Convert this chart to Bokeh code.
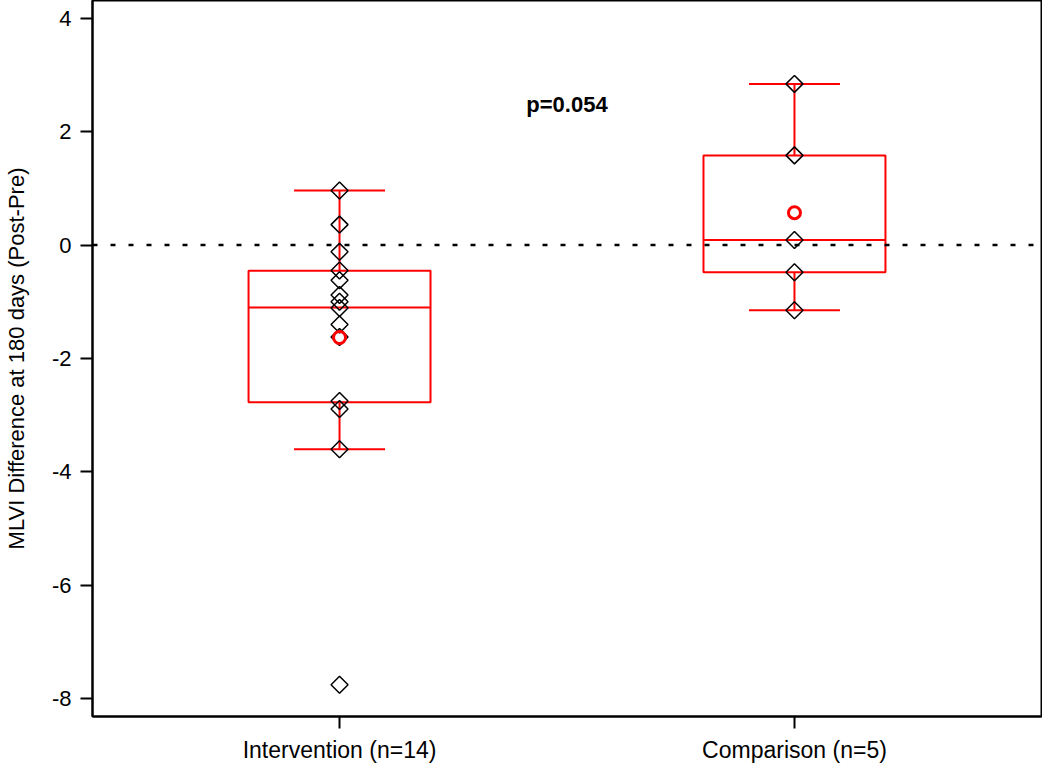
import math
from bokeh.plotting import figure
from bokeh.models import Span, FixedTicker, Range1d
from bokeh.core.properties import value
from bokeh.embed import file_html
from bokeh.resources import INLINE

# ---- data ----
groups = ["Intervention (n=14)", "Comparison (n=5)"]
group_pos = [1, 2]

intervention = [0.96, 0.36, -0.12, -0.45, -0.62, -0.88, -1.00, -1.11, -1.40, -1.62, -2.75, -2.89, -3.60, -7.75]
comparison = [2.84, 1.58, 0.09, -0.48, -1.15]

box_q1 = [-2.77, -0.48]
box_median = [-1.10, 0.09]
box_q3 = [-0.455, 1.58]
whisker_low = [-3.60, -1.15]
whisker_high = [0.96, 2.84]
group_mean = [-1.63, 0.57]

y_ticks = [-8, -6, -4, -2, 0, 2, 4]
y_tick_labels = ["-8", "-6", "-4", "-2", "0", "2", "4"]
p_label = ["p=0.054"]
p_label_x = [1.5]
p_label_y = [2.47]

FONT = "Liberation Sans"
RED = "#ff0000"

p = figure(width=1042, height=765, output_backend="svg", toolbar_location=None,
           x_range=Range1d(0.457, 2.543), y_range=Range1d(-8.31, 4.31),
           min_border_left=87, min_border_right=1, min_border_top=0, min_border_bottom=0)

p.xgrid.visible = False
p.ygrid.visible = False
p.outline_line_color = "black"
p.outline_line_width = 2
p.background_fill_color = "white"
p.border_fill_color = "white"

# axes
p.yaxis.ticker = FixedTicker(ticks=y_ticks)
p.yaxis.major_label_overrides = {t: s for t, s in zip(y_ticks, y_tick_labels)}
p.xaxis.ticker = FixedTicker(ticks=group_pos)
p.xaxis.major_label_overrides = {pos: g for pos, g in zip(group_pos, groups)}
for ax in (p.xaxis[0], p.yaxis[0]):
    ax.axis_line_color = "black"
    ax.axis_line_width = 2
    ax.major_tick_out = 12
    ax.major_tick_in = 0
    ax.major_tick_line_width = 2
    ax.minor_tick_line_color = None
    ax.major_label_text_font = FONT
    ax.major_label_text_color = "black"
    ax.axis_label_text_font = FONT
    ax.axis_label_text_font_style = "normal"
    ax.axis_label_text_color = "black"
p.yaxis.major_label_text_font_size = "22px"
p.xaxis.major_label_text_font_size = "23px"
p.yaxis.major_label_standoff = 9
p.xaxis.major_label_standoff = 8
p.yaxis.axis_label = "MLVI Difference at 180 days (Post-Pre)"
p.yaxis.axis_label_text_font_size = "22px"
p.yaxis.axis_label_standoff = 20

# zero reference line
p.add_layout(Span(location=0, dimension="width", line_color="black",
                  line_width=2.5, line_dash="5 13"))

# boxes
half_box = 0.2
half_cap = 0.1
p.quad(left=[x - half_box for x in group_pos], right=[x + half_box for x in group_pos],
       bottom=box_q1, top=box_q3, fill_color=None, line_color=RED, line_width=2)
p.segment(x0=[x - half_box for x in group_pos], x1=[x + half_box for x in group_pos],
          y0=box_median, y1=box_median, line_color=RED, line_width=2)
# whiskers
p.segment(x0=group_pos, x1=group_pos, y0=box_q3, y1=whisker_high, line_color=RED, line_width=2)
p.segment(x0=group_pos, x1=group_pos, y0=box_q1, y1=whisker_low, line_color=RED, line_width=2)
p.segment(x0=[x - half_cap for x in group_pos], x1=[x + half_cap for x in group_pos],
          y0=whisker_high, y1=whisker_high, line_color=RED, line_width=2)
p.segment(x0=[x - half_cap for x in group_pos], x1=[x + half_cap for x in group_pos],
          y0=whisker_low, y1=whisker_low, line_color=RED, line_width=2)

# individual points (diamonds)
xs = [group_pos[0]] * len(intervention) + [group_pos[1]] * len(comparison)
ys = intervention + comparison
p.scatter(xs, ys, marker="square", angle=math.pi / 4, size=12,
          fill_color=None, line_color="black", line_width=1.5)

# means
p.scatter(group_pos, group_mean, marker="circle", size=12,
          fill_color=None, line_color=RED, line_width=3)

# p-value
p.text(x=p_label_x, y=p_label_y, text=p_label, text_font=value(FONT),
       text_font_size="22px", text_font_style="bold", text_color="black",
       text_align="center", text_baseline="middle")

open("out.html", "w").write(file_html(p, INLINE))
